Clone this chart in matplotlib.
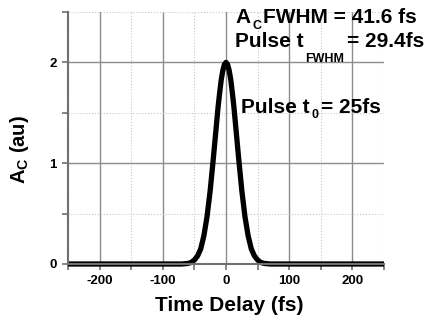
import matplotlib
matplotlib.use("Agg")
import matplotlib.pyplot as plt
from matplotlib.ticker import MultipleLocator

# autocorrelation trace (symmetric about 0)
delay_pos = [0, 2.5, 5, 7.5, 10, 12.5, 15, 17.5, 20, 25, 30, 35, 40, 45, 50, 55, 60, 70, 100, 250]
ac_pos = [2.0, 1.98, 1.92, 1.83, 1.70, 1.56, 1.39, 1.22, 1.05, 0.73, 0.47, 0.28, 0.15, 0.08, 0.04, 0.016, 0.006, 0.0, 0.0, 0.0]

delay = [-d for d in delay_pos[::-1]] + delay_pos[1:]
ac = ac_pos[::-1] + ac_pos[1:]

# annotation lines: start x px, baseline y px, subscript drop px, (text, subscript, text)
note_lines = [
    (235, 22.7, 6.3, ("A", "C", "FWHM = 41.6 fs")),
    (235, 46.7, 15.0, ("Pulse t", "FWHM", "= 29.4fs")),
    (241, 112.7, 5.0, ("Pulse t", "0", "= 25fs")),
]

plt.rcParams['font.family'] = ['Liberation Sans', 'DejaVu Sans']
plt.rcParams['font.weight'] = 'bold'
plt.rcParams['axes.unicode_minus'] = False
plt.rcParams['mathtext.fontset'] = 'custom'
plt.rcParams['mathtext.rm'] = 'Liberation Sans:bold'
plt.rcParams['mathtext.bf'] = 'Liberation Sans:bold'
plt.rcParams['mathtext.default'] = 'bf'

W, H = 428, 320
fig = plt.figure(figsize=(W / 100, H / 100), dpi=100)
ax = fig.add_axes([68 / W, 1 - 264 / H, 316 / W, 252 / H])

ax.set_xlim(-250, 250)
ax.set_ylim(0, 2.5)
ax.xaxis.set_major_locator(MultipleLocator(100))
ax.xaxis.set_minor_locator(MultipleLocator(50))
ax.yaxis.set_major_locator(MultipleLocator(1))
ax.yaxis.set_minor_locator(MultipleLocator(0.5))

ax.grid(which='major', color='#8c8c8c', lw=1.0)
ax.grid(which='minor', color='#c8c8c8', lw=0.8, ls=':')
ax.set_axisbelow(True)

for s in ['top', 'right']:
    ax.spines[s].set_visible(False)
for s in ['left', 'bottom']:
    ax.spines[s].set_color('#707070')
    ax.spines[s].set_linewidth(1.5)

ax.tick_params(which='both', direction='out', color='#707070', width=1.2, labelsize=9.5, pad=4)
ax.tick_params(which='major', length=4)
ax.tick_params(which='minor', length=4, labelbottom=False, labelleft=False)
for lab in ax.get_xticklabels() + ax.get_yticklabels():
    lab.set_fontweight('bold')

ax.plot(delay, ac, color='black', lw=3.8, solid_joinstyle='round', solid_capstyle='butt', clip_on=False)

ax.set_xlabel('Time Delay (fs)', fontsize=15, fontweight='bold', va='top')
ax.xaxis.set_label_coords(0.51, -0.127)
ax.set_ylabel('A$_{\\mathbf{C}}$ (au)', fontsize=14.5, fontweight='bold')
ax.yaxis.set_label_coords(-0.117, 0.456)

# text with dropped subscripts, pieces placed one after another
renderer = fig.canvas.get_renderer()
for x0, y0, drop, (main, sub, rest) in note_lines:
    t = fig.text(x0 / W, 1 - y0 / H, main, fontsize=15, fontweight='bold', va='baseline')
    x = t.get_window_extent(renderer).x1 + 2
    t = fig.text(x / W, 1 - (y0 + drop) / H, sub, fontsize=9, fontweight='bold', va='baseline')
    x = t.get_window_extent(renderer).x1 + 2
    fig.text(x / W, 1 - y0 / H, rest, fontsize=15, fontweight='bold', va='baseline')

fig.savefig('out.png', dpi=100)
